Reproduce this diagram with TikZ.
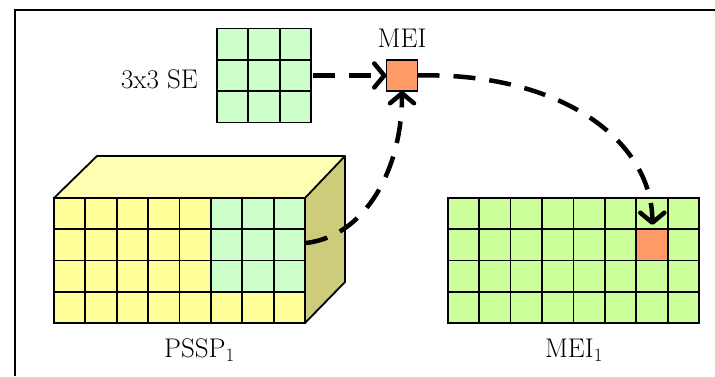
\documentclass[tikz,border=0pt]{standalone}
\usetikzlibrary{arrows.meta}
\definecolor{seGreen}{HTML}{CCFFCC}
\definecolor{cellYellow}{HTML}{FFFF99}
\definecolor{topYellow}{HTML}{FFFFB3}
\definecolor{sideOlive}{HTML}{CCCC7A}
\definecolor{mapLime}{HTML}{CCFF99}
\definecolor{hitOrange}{HTML}{FF9966}
\begin{document}
\begin{tikzpicture}[x=1pt,y=-1pt,
  gridline/.style={draw=black,line width=1.8pt},
  box/.style={draw=black,line width=1.8pt,inner sep=0pt,outer sep=0pt},
  flow/.style={line width=4.5pt,dash pattern=on 22pt off 14pt,
    -{Straight Barb[round,length=10pt,width=24pt]}},
  lbl/.style={font=\fontsize{27}{31}\selectfont,inner sep=0pt}]
\useasboundingbox (0,0) rectangle (715,376);
% outer frame (only its top and left sides fall inside the page)
\draw[line width=2pt] (15,376) -- (15,10) -- (715,10);

% structuring element: 3x3 grid
\node[box,fill=seGreen,minimum size=94pt] (se) at (264,75.5) {};
\foreach \i in {1,2} {
  \draw[gridline] (217+\i*31.33,28.5) -- (217+\i*31.33,122.5);
  \draw[gridline] (217,28.5+\i*31.33) -- (311,28.5+\i*31.33);
}
\node[lbl,anchor=east] (selbl) at (198,79) {3x3 SE};

% MEI element
\node[box,fill=hitOrange,minimum size=31pt] (mei) at (402,75.5) {};
\node[lbl] (meilbl) at (402,38) {MEI};

% PSSP block: top and side faces
\fill[topYellow] (54,198) -- (97,156) -- (345,156) -- (305,198) -- cycle;
\fill[sideOlive] (305,198) -- (345,156) -- (345,282) -- (305,323) -- cycle;
\draw[line width=1.8pt,line join=round] (54,198) -- (97,156) -- (345,156) -- (305,198)
  (345,156) -- (345,282) -- (305,323);
% PSSP front face
\node[box,fill=cellYellow,minimum width=251pt,minimum height=125pt] (front) at (179.5,260.5) {};
\fill[seGreen] (210.875,198) rectangle (305,291.75);
\foreach \i in {1,...,7}
  \draw[gridline] (54+\i*31.375,198) -- (54+\i*31.375,323);
\foreach \j in {1,2,3}
  \draw[gridline] (54,198+\j*31.25) -- (305,198+\j*31.25);
\draw[line width=1.8pt] (front.south west) rectangle (front.north east);
\node[lbl] (pssplbl) at (199.5,350) {PSSP\textsubscript{1}};
\coordinate (src) at (306,243);

% MEI_1 map
\node[box,fill=mapLime,minimum width=251.4pt,minimum height=125pt] (map) at (573.4,260.5) {};
\node[box,draw=none,fill=hitOrange,minimum width=31.4pt,minimum height=31.25pt] (hit) at (652.4,244.6) {};
\foreach \i in {1,...,7}
  \draw[gridline] (447.7+\i*31.425,198) -- (447.7+\i*31.425,323);
\foreach \j in {1,2,3}
  \draw[gridline] (447.7,198+\j*31.25) -- (699.1,198+\j*31.25);
\draw[line width=1.8pt] (map.south west) rectangle (map.north east);
\node[lbl] (maplbl) at (574,350) {MEI\textsubscript{1}};

% data flow
\draw[flow] (se.east) ++(2,0) -- (mei.west);
\draw[flow] (src) .. controls (365,236) and (402,170) .. (mei.south);
\draw[flow,shorten >=4pt] (mei.east) .. controls (560,72) and (652,140) .. (hit.north);
\end{tikzpicture}
\end{document}
